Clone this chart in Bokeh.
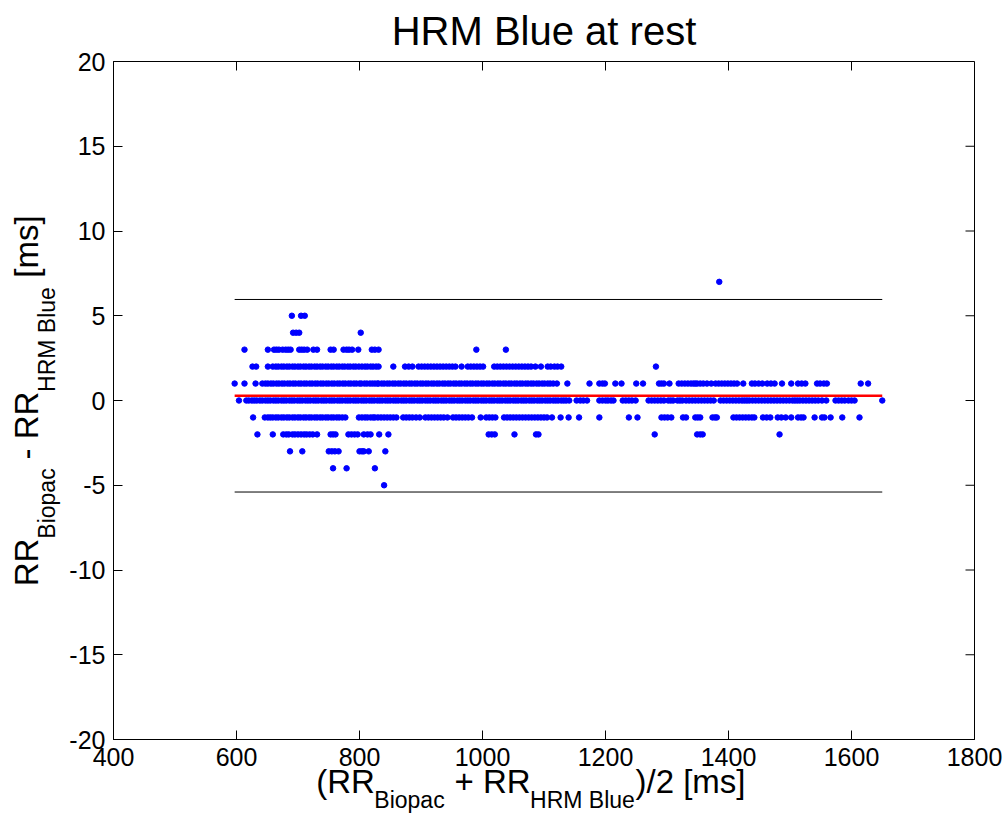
import numpy as np
from bokeh.plotting import figure
from bokeh.models import LinearAxis, Range1d, FixedTicker, ColumnDataSource
from bokeh.embed import file_html
from bokeh.resources import INLINE

# ---- data: mean RR (x, ms) grouped by the RR difference (ms) ----
diff_p7 = [1385]
diff_p5 = [690, 705, 711]
diff_p4 = [692, 697, 702, 802]
diff_p3 = [613, 651, 661, 665, 669, 675, 680, 684, 688, 702, 706, 710, 715, 725, 731,
           753, 758, 774, 779, 783, 788, 798, 820, 825, 831, 990, 1038]
diff_p2 = [626, 632, 651, 659, 664, 668, 673, 677, 682, 686, 691, 695, 700, 704, 709,
           713, 718, 722, 727, 731, 736, 740, 745, 749, 754, 758, 763, 767, 772, 776,
           781, 785, 790, 794, 799, 804, 809, 813, 818, 822, 827, 831, 855, 874, 880,
           886, 896, 901, 906, 911, 916, 921, 926, 931, 936, 941, 946, 951, 956, 966,
           976, 981, 986, 991, 996, 1001, 1019, 1024, 1029, 1034, 1039, 1044, 1049,
           1054, 1059, 1064, 1069, 1074, 1079, 1086, 1095, 1106, 1111, 1117, 1122, 1128,
           1282]
diff_p1 = [597, 613, 631, 642, 647, 651, 656, 660, 665, 669, 674, 678, 683, 687, 692,
           696, 701, 705, 710, 714, 719, 723, 728, 732, 737, 741, 746, 750, 755, 759,
           764, 768, 773, 777, 782, 786, 791, 795, 800, 803, 808, 812, 817, 821, 825,
           829, 831, 836, 840, 845, 849, 854, 858, 863, 867, 872, 876, 881, 885, 890,
           894, 899, 903, 908, 912, 917, 921, 926, 930, 935, 939, 944, 948, 953, 957,
           962, 966, 971, 975, 980, 984, 989, 993, 998, 1002, 1007, 1011, 1016, 1020,
           1025, 1029, 1034, 1038, 1043, 1047, 1052, 1056, 1061, 1065, 1070, 1074, 1079,
           1083, 1088, 1092, 1097, 1101, 1106, 1110, 1115, 1121, 1138, 1174, 1190, 1195,
           1199, 1216, 1226, 1250, 1261, 1287, 1291, 1295, 1304, 1319, 1324, 1329, 1334,
           1339, 1343, 1346, 1349, 1354, 1359, 1365, 1372, 1379, 1384, 1389, 1394, 1399,
           1404, 1409, 1414, 1424, 1438, 1443, 1449, 1455, 1463, 1469, 1475, 1487, 1502,
           1513, 1519, 1525, 1544, 1549, 1555, 1560, 1615, 1627]
diff_0 = [604, 616, 620, 625, 629, 633, 638, 642, 647, 651, 655, 660, 664, 668, 673,
          677, 681, 686, 690, 694, 699, 703, 707, 712, 716, 720, 725, 729, 733, 738,
          742, 746, 751, 755, 759, 764, 768, 772, 777, 781, 785, 790, 794, 798, 803,
          807, 811, 816, 820, 824, 829, 833, 837, 842, 846, 850, 855, 859, 863, 868,
          872, 876, 881, 885, 889, 894, 898, 902, 907, 911, 915, 920, 924, 928, 933,
          937, 941, 946, 950, 954, 959, 963, 967, 972, 976, 980, 985, 989, 993, 998,
          1002, 1006, 1011, 1015, 1019, 1024, 1028, 1032, 1037, 1041, 1045, 1050, 1054,
          1058, 1063, 1067, 1071, 1076, 1080, 1084, 1089, 1093, 1097, 1102, 1106, 1110,
          1115, 1119, 1123, 1128, 1132, 1136, 1141, 1153, 1159, 1164, 1170, 1190, 1195,
          1200, 1204, 1209, 1213, 1228, 1233, 1238, 1243, 1249, 1270, 1275, 1280, 1285,
          1290, 1295, 1302, 1306, 1310, 1317, 1321, 1325, 1331, 1336, 1341, 1346, 1351,
          1356, 1361, 1366, 1371, 1376, 1387, 1392, 1397, 1402, 1407, 1412, 1417, 1422,
          1426, 1430, 1434, 1439, 1444, 1449, 1454, 1459, 1464, 1469, 1474, 1479, 1484,
          1489, 1494, 1499, 1504, 1508, 1512, 1516, 1521, 1526, 1531, 1536, 1541, 1546,
          1552, 1559, 1574, 1579, 1584, 1589, 1595, 1600, 1605, 1650]
diff_m1 = [627, 646, 651, 655, 659, 664, 668, 673, 677, 682, 686, 691, 695, 700, 704,
           709, 713, 718, 722, 727, 731, 736, 740, 745, 749, 754, 758, 763, 767, 772,
           777, 799, 804, 809, 813, 818, 822, 825, 830, 835, 840, 845, 850, 855, 860,
           871, 876, 881, 886, 892, 898, 907, 912, 917, 922, 927, 932, 937, 943, 952,
           957, 962, 967, 972, 977, 983, 997, 1006, 1011, 1016, 1021, 1035, 1040, 1045,
           1050, 1055, 1060, 1065, 1070, 1075, 1080, 1085, 1090, 1095, 1100, 1105, 1113,
           1127, 1140, 1157, 1190, 1238, 1252, 1291, 1296, 1301, 1307, 1326, 1331, 1346,
           1350, 1354, 1374, 1378, 1381, 1408, 1413, 1418, 1423, 1428, 1433, 1438, 1442,
           1456, 1462, 1468, 1480, 1486, 1493, 1502, 1513, 1518, 1522, 1540, 1552, 1556,
           1566, 1585, 1613]
diff_m2 = [634, 659, 676, 681, 685, 691, 695, 700, 705, 710, 714, 719, 724, 731, 753,
           757, 761, 782, 787, 792, 797, 807, 813, 818, 832, 847, 1010, 1015, 1020, 1052,
           1087, 1091, 1280, 1349, 1354, 1358, 1483]
diff_m3 = [687, 707, 750, 755, 760, 766, 800, 804, 807, 815, 842]
diff_m4 = [757, 779, 825]
diff_m5 = [840]

mean_diff = 0.28
upper_loa = 5.96
lower_loa = -5.40

x_ticks = [400, 600, 800, 1000, 1200, 1400, 1600, 1800]
y_ticks = [-20, -15, -10, -5, 0, 5, 10, 15, 20]

title_text = "HRM Blue at rest"
# axis label pieces: (text, is_subscript)
xlabel_parts = [("(RR", False), ("Biopac", True), (" + RR", False),
                ("HRM Blue", True), (")/2 [ms]", False)]
ylabel_parts = [("RR", False), ("Biopac", True), (" - RR", False),
                ("HRM Blue", True), (" [ms]", False)]

# ---- build scatter table ----
rows = [(7, diff_p7), (5, diff_p5), (4, diff_p4), (3, diff_p3), (2, diff_p2),
        (1, diff_p1), (0, diff_0), (-1, diff_m1), (-2, diff_m2), (-3, diff_m3),
        (-4, diff_m4), (-5, diff_m5)]
xs, ys = [], []
for d, vals in rows:
    xs.extend(vals)
    ys.extend([d] * len(vals))
src = ColumnDataSource(dict(x=xs, y=ys))

W, H = 1008, 829
FL, FR, FT, FB = 113, 974, 61, 739   # frame edges in pixels
X0, X1, Y0, Y1 = 400, 1800, -20, 20

p = figure(width=W, height=H, x_range=Range1d(X0, X1), y_range=Range1d(Y0, Y1),
           output_backend="svg", toolbar_location=None,
           min_border_left=FL, min_border_right=W - FR,
           min_border_top=FT, min_border_bottom=H - FB,
           background_fill_color="white", border_fill_color="white")
p.grid.visible = False
p.outline_line_color = "black"
p.outline_line_width = 1

FONT = "Liberation Sans"
TICK_FS = 25
TICK_LEN = 9
MAIN, SUB = 33, 23

# title
p.title.text = title_text
p.title.align = "center"
p.title.vertical_align = "top"
p.title.text_font = FONT
p.title.text_font_size = "40px"
p.title.text_font_style = "normal"
p.title.text_color = "black"
p.title.standoff = 14

for ax, ticks in ((p.xaxis[0], x_ticks), (p.yaxis[0], y_ticks)):
    ax.ticker = FixedTicker(ticks=ticks)
    ax.major_label_overrides = {t: str(t) for t in ticks}
    ax.major_tick_in = TICK_LEN
    ax.major_tick_out = 0
    ax.minor_tick_in = 0
    ax.minor_tick_out = 0
    ax.axis_line_color = "black"
    ax.major_tick_line_color = "black"
    ax.major_label_text_font = FONT
    ax.major_label_text_font_size = f"{TICK_FS}px"
    ax.major_label_text_color = "black"
    ax.major_label_standoff = 8

# ---- inward ticks on the top and right edges (from the tick lists) ----
tlx = TICK_LEN * (X1 - X0) / (FR - FL)
tly = TICK_LEN * (Y1 - Y0) / (FB - FT)
p.segment(x0=x_ticks, y0=[Y1] * len(x_ticks), x1=x_ticks, y1=[Y1 - tly] * len(x_ticks),
          line_color="black", line_width=1)
p.segment(x0=[X1] * len(y_ticks), y0=y_ticks, x1=[X1 - tlx] * len(y_ticks), y1=y_ticks,
          line_color="black", line_width=1)

# ---- glyphs ----
p.scatter("x", "y", source=src, size=5.5, marker="circle",
          fill_color=(0, 0, 255), line_color=(0, 0, 255))
xmin, xmax = min(xs), max(xs)
p.line([xmin, xmax], [upper_loa, upper_loa], line_color="black", line_width=1)
p.line([xmin, xmax], [lower_loa, lower_loa], line_color="black", line_width=1)
p.line([xmin, xmax], [mean_diff, mean_diff], line_color="red", line_width=2.5)

# ---- axis labels with subscripts: pieces laid out as labels of bare helper axes ----
CW = {'(': 333, ')': 333, 'R': 722, 'B': 667, 'i': 222, 'o': 556, 'p': 556, 'a': 556,
      'c': 500, ' ': 278, '+': 584, 'H': 722, 'M': 833, 'l': 222, 'u': 556, 'e': 556,
      '/': 278, '2': 556, '[': 278, ']': 278, 'm': 833, 's': 500, '-': 333}

def tw(s, fs):
    return sum(CW.get(c, 556) for c in s) * fs / 1000.0

def layout_pieces(parts, start):
    """Return {center_px: text} for main pieces and subscript pieces."""
    main, sub = {}, {}
    pos = start
    for s, is_sub in parts:
        fs = SUB if is_sub else MAIN
        lead = len(s) - len(s.lstrip(" "))
        core = s.strip(" ")
        c = pos + tw(" " * lead, fs) + tw(core, fs) / 2.0
        (sub if is_sub else main)[int(round(c))] = core
        pos += tw(s, fs)
    return main, sub

def bare_axis(ax, labels, fs, standoff):
    ax.ticker = FixedTicker(ticks=sorted(labels))
    ax.major_label_overrides = labels
    ax.axis_line_color = None
    ax.major_tick_line_color = None
    ax.minor_tick_line_color = None
    ax.major_tick_in = 0
    ax.major_tick_out = 0
    ax.minor_tick_in = 0
    ax.minor_tick_out = 0
    ax.major_label_text_font = FONT
    ax.major_label_text_font_size = f"{fs}px"
    ax.major_label_text_color = "black"
    ax.major_label_standoff = standoff

p.extra_x_ranges = {"px": Range1d(FL, FR)}
p.extra_y_ranges = {"py": Range1d(FB, FT)}

# x label
xtot = sum(tw(s, SUB if b else MAIN) for s, b in xlabel_parts)
xm, xs_ = layout_pieces(xlabel_parts, 530 - xtot / 2.0)
ax_xm = LinearAxis(x_range_name="px")
bare_axis(ax_xm, xm, MAIN, -6)
ax_xs = LinearAxis(x_range_name="px")
bare_axis(ax_xs, xs_, SUB, -16)
p.add_layout(ax_xm, "below")
p.add_layout(ax_xs, "below")

# y label (text reads bottom to top; pixel positions measured downward -> flip)
ytot = sum(tw(s, SUB if b else MAIN) for s, b in ylabel_parts)
ym_up, ys_up = layout_pieces(ylabel_parts, 0.0)
base = 400 + ytot / 2.0
ym = {int(round(base - k)): v for k, v in ym_up.items()}
ys2 = {int(round(base - k)): v for k, v in ys_up.items()}
ax_ys = LinearAxis(y_range_name="py")
bare_axis(ax_ys, ys2, SUB, 7)
ax_ys.major_label_orientation = "vertical"
ax_ym = LinearAxis(y_range_name="py")
bare_axis(ax_ym, ym, MAIN, -14)
ax_ym.major_label_orientation = "vertical"
p.add_layout(ax_ys, "left")
p.add_layout(ax_ym, "left")

open("out.html", "w").write(file_html(p, INLINE))
